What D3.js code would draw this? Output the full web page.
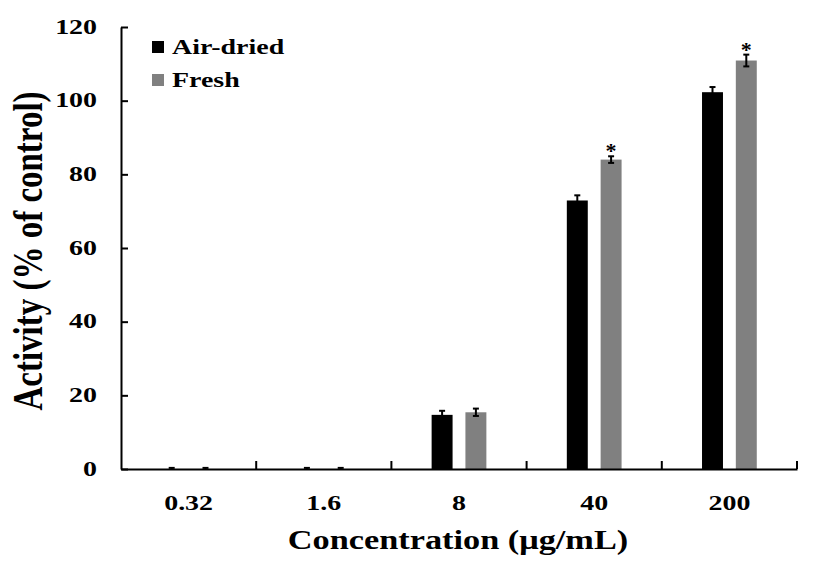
<!DOCTYPE html>
<html>
<head>
<meta charset="utf-8">
<script src="https://cdn.jsdelivr.net/npm/d3@7"></script>
<style>
  body { margin: 0; background: #fff; }
  svg text { font-family: 'Liberation Serif', 'Times New Roman', serif; font-weight: bold; fill: #000; }
</style>
</head>
<body>
<div id="chart"></div>
<script>
// Data
const categories = ['0.32', '1.6', '8', '40', '200']
const series = ['Air-dried', 'Fresh']
const airDried = [0, 0, 14.7, 72.9, 102.3]
const airDriedErr = [0.3, 0.3, 1.1, 1.4, 1.4]
const fresh = [0, 0, 15.4, 84.0, 110.9]
const freshErr = [0.3, 0.3, 1.0, 0.9, 1.6]
const starred = [false, false, false, true, true]
const yTicks = [0, 20, 40, 60, 80, 100, 120]

const colors = { 'Air-dried': '#000000', 'Fresh': '#808080' }
const serif = "'Liberation Serif', 'Times New Roman', serif"
const stretch = 1.27 // text in the picture is wider than plain Times

// Dimensions
const dimensions = {
  width: 827,
  height: 572,
  left: 121,
  right: 797,
  top: 27,
  bottom: 469,
}

const svg = d3
  .select('#chart')
  .append('svg')
  .attr('width', dimensions.width)
  .attr('height', dimensions.height)
  .attr('font-family', serif)
  .attr('font-weight', 'bold')

// Scales
const yScale = d3
  .scaleLinear()
  .domain([0, 120])
  .range([dimensions.bottom, dimensions.top])

const xScale = d3
  .scaleBand()
  .domain(categories)
  .range([dimensions.left, dimensions.right])

const subScale = d3
  .scaleBand()
  .domain(series)
  .range([0, xScale.bandwidth()])
  .paddingInner(0.38)
  .paddingOuter(1.19)

const rows = categories.map((c, i) => ({
  cat: c,
  star: starred[i],
  values: [
    { key: 'Air-dried', value: airDried[i], err: airDriedErr[i] },
    { key: 'Fresh', value: fresh[i], err: freshErr[i] },
  ],
}))

// Bars
const groups = svg
  .selectAll('g.cat')
  .data(rows)
  .join('g')
  .attr('class', 'cat')
  .attr('transform', (d) => `translate(${xScale(d.cat)},0)`)

groups
  .selectAll('rect')
  .data((d) => d.values)
  .join('rect')
  .attr('x', (d) => subScale(d.key))
  .attr('width', subScale.bandwidth())
  .attr('y', (d) => yScale(d.value))
  .attr('height', (d) => yScale(0) - yScale(d.value))
  .attr('fill', (d) => colors[d.key])

// Error bars
const errG = groups
  .selectAll('g.err')
  .data((d) => d.values)
  .join('g')
  .attr('class', 'err')
  .attr('transform', (d) => `translate(${subScale(d.key) + subScale.bandwidth() / 2},0)`)
  .attr('stroke', '#000')
  .attr('stroke-width', 2)

errG
  .append('line')
  .attr('y1', (d) => yScale(Math.max(0, d.value - d.err)))
  .attr('y2', (d) => yScale(d.value + d.err))
errG
  .append('line')
  .attr('x1', -3)
  .attr('x2', 3)
  .attr('y1', (d) => yScale(d.value + d.err))
  .attr('y2', (d) => yScale(d.value + d.err))
errG
  .filter((d) => d.value > 0)
  .append('line')
  .attr('x1', -3)
  .attr('x2', 3)
  .attr('y1', (d) => yScale(d.value - d.err))
  .attr('y2', (d) => yScale(d.value - d.err))

// Significance stars over Fresh
groups
  .filter((d) => d.star)
  .append('text')
  .attr('text-anchor', 'middle')
  .attr('font-family', serif)
  .attr('font-size', 20)
  .attr('transform', (d) => {
    const f = d.values[1]
    return `translate(${subScale('Fresh') + subScale.bandwidth() / 2},${yScale(f.value + f.err) + 2}) scale(1.1,1)`
  })
  .text('*')

// Y axis
const yAxis = d3.axisLeft(yScale).tickValues(yTicks).tickSize(-7).tickSizeOuter(0)
const yG = svg
  .append('g')
  .attr('transform', `translate(${dimensions.left},0)`)
  .call(yAxis)
  .attr('font-family', serif)
yG.selectAll('path, line').attr('stroke', '#000').attr('stroke-width', 2)
yG.selectAll('text')
  .attr('x', 0)
  .attr('dy', null)
  .attr('transform', `translate(-24,6) scale(${stretch},1)`)
  .attr('font-size', 22)
  .attr('font-family', serif)

// X axis
const xAxis = d3.axisBottom(xScale).tickSize(0).tickSizeOuter(0)
const xG = svg
  .append('g')
  .attr('transform', `translate(0,${dimensions.bottom})`)
  .call(xAxis)
  .attr('font-family', serif)
xG.select('path').attr('stroke', '#000').attr('stroke-width', 2)
xG.selectAll('text')
  .attr('y', 0)
  .attr('dy', null)
  .attr('transform', `translate(0,41) scale(${stretch},1)`)
  .attr('font-size', 22)
  .attr('font-family', serif)

// Boundary ticks between categories
xG.selectAll('line.sep')
  .data(categories)
  .join('line')
  .attr('class', 'sep')
  .attr('x1', (d) => xScale(d) + xScale.step())
  .attr('x2', (d) => xScale(d) + xScale.step())
  .attr('y1', 0)
  .attr('y2', -8)
  .attr('stroke', '#000')
  .attr('stroke-width', 2)

// Axis titles
svg
  .append('text')
  .attr('text-anchor', 'middle')
  .attr('font-family', serif)
  .attr('font-size', 27)
  .attr('transform', `translate(${(dimensions.left + dimensions.right) / 2 - 1},549) scale(${stretch},1)`)
  .text('Concentration (μg/mL)')

svg
  .append('text')
  .attr('text-anchor', 'middle')
  .attr('font-family', serif)
  .attr('font-size', 33)
  .attr('transform', `translate(42,251) scale(${stretch},1) rotate(-90)`)
  .text('Activity (% of control)')

// Legend
const legend = svg
  .selectAll('g.legend')
  .data(series)
  .join('g')
  .attr('class', 'legend')
  .attr('transform', (d, i) => `translate(152,${41 + i * 33})`)

legend
  .append('rect')
  .attr('width', 12)
  .attr('height', 12)
  .attr('fill', (d) => colors[d])

legend
  .append('text')
  .attr('font-family', serif)
  .attr('font-size', 22)
  .attr('transform', `translate(20,13) scale(${stretch},1)`)
  .text((d) => d)
</script>
</body>
</html>
